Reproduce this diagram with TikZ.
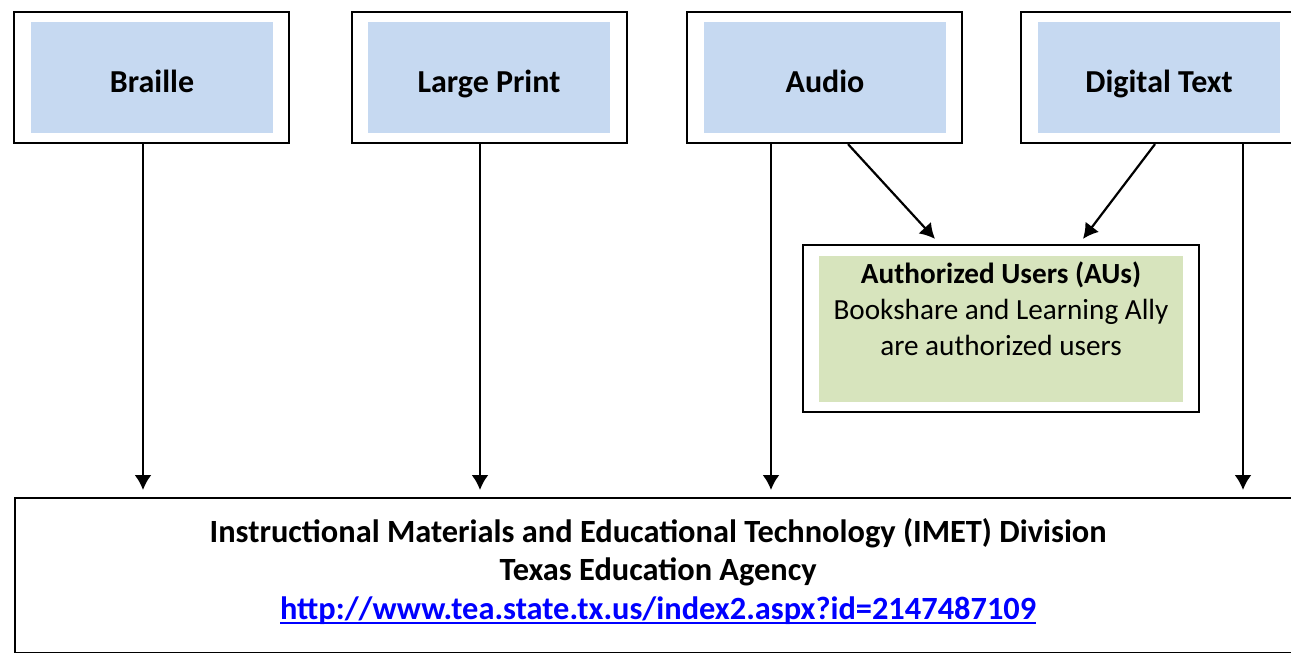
\documentclass[tikz,border=0pt]{standalone}
\usepackage{fontspec}
\setmainfont{Carlito}
\usepackage{xcolor}
\usetikzlibrary{arrows.meta}
\usetikzlibrary{positioning}

\definecolor{mediablue}{HTML}{C6D9F1}
\definecolor{augreen}{HTML}{D7E4BD}
\definecolor{linkblue}{HTML}{0000FF}

% thick underline for the link
\newcommand\linkline[1]{\setbox0\hbox{#1}%
  \rlap{\rule[-2.4pt]{\wd0}{1.2pt}}\raisebox{0pt}[\ht0][7pt]{\box0}}

\tikzset{
  outerbox/.style={draw,line width=1.1pt,inner sep=0pt,
    minimum width=137.5pt,minimum height=65.5pt},
  mediabox/.style={fill=mediablue,inner sep=0pt,
    font=\bfseries\fontsize{16}{19}\selectfont,
    minimum width=121pt,minimum height=55.5pt,
    text height=14.5pt,text depth=0pt},
  flow/.style={-{Latex[length=7.5pt,width=8.5pt]},line width=1.1pt},
}

\begin{document}
\begin{tikzpicture}[x=0.5pt,y=-0.5pt,font=\fontsize{14.6}{18}\selectfont]
  \useasboundingbox (0,0) rectangle (1291,653);

  % formats
  \node[outerbox] (braille) at (151.5,77.5) {};
  \node[mediabox] (braillet) at (152,77.5) {Braille};
  \node[outerbox] (large) at (489.5,77.5) {};
  \node[mediabox] (larget) at (489,77.5) {Large Print};
  \node[outerbox] (audio) at (824.5,77.5) {};
  \node[mediabox] (audiot) at (825,77.5) {Audio};
  \node[outerbox] (digital) at (1158.5,77.5) {};
  \node[mediabox] (digitalt) at (1159,77.5) {Digital Text};

  % authorized users
  \node[draw,line width=1.1pt,minimum width=198pt,minimum height=83.5pt]
    (au) at (1001,328.5) {};
  \node[fill=augreen,minimum width=182pt,minimum height=73pt]
    (aufill) at (1001,329) {};
  \node[below=3pt of aufill.north,inner sep=0pt,align=center] (aut)
    {\textbf{Authorized Users (AUs)}\\
     Bookshare and Learning Ally\\
     are authorized users};

  % IMET
  \node[draw,line width=1.1pt,anchor=north west,minimum width=643pt,
    minimum height=77.5pt,align=center,
    font=\bfseries\fontsize{16.2}{19.3}\selectfont] (imet) at (14,497)
    {Instructional Materials and Educational Technology (IMET) Division\\
     Texas Education Agency\\
     \textcolor{linkblue}{\linkline{http://www.tea.state.tx.us/index2.aspx?id=2147487109}}};

  \path (braille.south) +(-8.5,0) coordinate (brailleo) {};
  \path (brailleo |- imet.north) coordinate (braillei) {};
  \draw[flow,shorten >=3.5pt] (brailleo) -- (braillei);
  \path (large.south) +(-9.5,0) coordinate (largeo) {};
  \path (largeo |- imet.north) coordinate (largei) {};
  \draw[flow,shorten >=3.5pt] (largeo) -- (largei);
  \path (audio.south) +(-53.5,0) coordinate (audioo) {};
  \path (audioo |- imet.north) coordinate (audioi) {};
  \draw[flow,shorten >=3.5pt] (audioo) -- (audioi);
  \path (digital.south) +(84.5,0) coordinate (digitalo) {};
  \path (digitalo |- imet.north) coordinate (digitali) {};
  \draw[flow,shorten >=3.5pt] (digitalo) -- (digitali);

  \path (audio.south) +(23.5,0) coordinate (audioau) {};
  \path (au.north) +(-66,-5) coordinate (auaudio) {};
  \draw[flow] (audioau) -- (auaudio);
  \path (digital.south) +(-3.5,0) coordinate (digitalau) {};
  \path (au.north) +(82,-5) coordinate (audigital) {};
  \draw[flow] (digitalau) -- (audigital);
\end{tikzpicture}
\end{document}
